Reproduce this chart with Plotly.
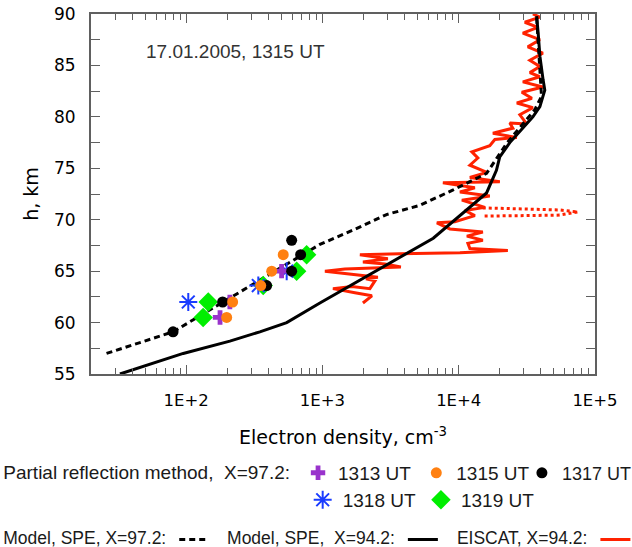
import plotly.graph_objects as go

# ---------------- data ----------------
# Model, SPE, X=97.2 (dashed)
model972_ne = [26, 80, 957, 1680, 2950, 5190, 9100, 16000, 22400, 29700, 36200, 40500, 39400, 38300, 37300]
model972_h = [57.0, 59.1, 67.6, 69.0, 70.5, 71.4, 72.9, 74.5, 77.4, 79.4, 80.7, 82.0, 84.9, 88.1, 89.7]

# Model, SPE, X=94.2 (solid)
model942_ne = [32.6, 95, 209, 347, 546, 957, 6500, 16000, 18900, 20000, 23700, 35000, 39400, 42800, 41600, 39400, 38300, 37300]
model942_h = [55.0, 57.0, 58.2, 59.1, 60.0, 61.9, 68.2, 72.6, 74.8, 76.1, 77.5, 80.0, 81.0, 82.6, 83.6, 85.9, 88.1, 89.8]

# EISCAT, X=94.2 (red)
eiscat_ne = [1980, 2305, 1730, 1193, 1644, 2228, 2425, 2083, 2551, 1042, 1460, 3760, 2871, 1980, 3020,
             1882, 3700, 10200, 22930, 12070, 11670, 15030, 11470, 15030, 8610, 6910, 9370, 13130, 11090,
             15550, 10540, 16900, 10200, 13130, 7650, 20030, 12070, 16070, 12070, 13810, 12480, 16900,
             18400, 26700, 17800, 24950, 23700, 31600, 28090, 34990, 26700, 34400, 29040, 41400, 29550,
             39360, 33270, 39360, 33270, 41400, 32140, 39360, 29550, 38060, 30550, 39360, 34990]
eiscat_h = [61.9, 62.6, 62.9, 63.3, 63.5, 63.3, 64.05, 64.25, 64.4, 65.0, 65.2, 65.4, 65.7, 65.9, 66.2,
            66.6, 66.7, 66.8, 67.0, 67.2, 67.7, 68.0, 68.4, 68.8, 69.1, 69.7, 69.8, 70.4, 70.9,
            71.2, 71.9, 72.3, 72.7, 73.1, 73.6, 73.7, 74.1, 74.6, 75.3, 76.0, 76.6, 77.2,
            77.8, 78.0, 78.4, 78.9, 79.4, 79.3, 80.2, 80.9, 81.35, 81.8, 82.4, 82.9, 83.4,
            83.9, 84.3, 84.9, 85.5, 86.2, 86.8, 87.5, 88.15, 88.7, 89.2, 89.7, 90.0]

# EISCAT dotted excursion
eiscat_dot_ne = [15000, 30000, 55000, 75000, 55000, 30000, 15000]
eiscat_dot_h = [71.15, 71.05, 70.95, 70.75, 70.45, 70.4, 70.35]

# Partial reflection method, X=97.2
pr1313_ne = [209, 177, 501]
pr1313_h = [62.0, 60.5, 65.0]
pr1315_ne = [219, 198, 352, 424, 515]
pr1315_h = [62.0, 60.5, 63.6, 65.0, 66.6]
pr1317_ne = [80, 185, 389, 594, 691, 594]
pr1317_h = [59.1, 62.0, 63.6, 68.0, 66.6, 65.0]
pr1318_ne = [103.5, 338, 546]
pr1318_h = [62.0, 63.6, 65.0]
pr1319_ne = [145, 133, 367, 646, 765]
pr1319_h = [62.0, 60.5, 63.6, 65.0, 66.6]

xtick_vals = [100, 1000, 10000, 100000]
xtick_text = ["1E+2", "1E+3", "1E+4", "1E+5"]
xminor_vals = [m * 10 ** d for d in (1, 2, 3, 4) for m in range(2, 10)]

RED = "#ff2200"
TXT = "#1a1a1a"
LEG1 = dict(family="Liberation Sans", size=19, color=TXT)
LEG1b = dict(family="Liberation Sans", size=18, color=TXT)
LEG3 = dict(family="Liberation Sans", size=17.5, color=TXT)

fig = go.Figure()

fig.add_trace(go.Scatter(x=eiscat_dot_ne, y=eiscat_dot_h, mode="lines",
                         line=dict(color=RED, width=3, dash="3px,3px"), showlegend=False))
fig.add_trace(go.Scatter(x=eiscat_ne, y=eiscat_h, mode="lines", name="",
                         line=dict(color=RED, width=3), legend="legend4"))
fig.add_trace(go.Scatter(x=model942_ne, y=model942_h, mode="lines", name="",
                         line=dict(color="black", width=3), legend="legend3"))
fig.add_trace(go.Scatter(x=model972_ne, y=model972_h, mode="lines", name="",
                         line=dict(color="black", width=3, dash="6px,4px"), legend="legend2"))

fig.add_trace(go.Scatter(x=pr1319_ne, y=pr1319_h, mode="markers", name="1319 UT", legendrank=5,
                         legend="legend5",
                         marker=dict(symbol="diamond", size=15, color="#00ee00")))
fig.add_trace(go.Scatter(x=pr1318_ne, y=pr1318_h, mode="markers", name="1318 UT", legendrank=4,
                         legend="legend5",
                         marker=dict(symbol="asterisk-open", size=15, color="#1a3cff",
                                     line=dict(color="#1a3cff", width=2))))
fig.add_trace(go.Scatter(x=pr1313_ne, y=pr1313_h, mode="markers", name="1313 UT", legendrank=1,
                         marker=dict(symbol="cross", size=12, color="#9933cc")))
fig.add_trace(go.Scatter(x=pr1317_ne, y=pr1317_h, mode="markers", name="1317 UT", legendrank=3,
                         legend="legend6",
                         marker=dict(symbol="circle", size=11, color="black")))
fig.add_trace(go.Scatter(x=pr1315_ne, y=pr1315_h, mode="markers", name="1315 UT", legendrank=2,
                         marker=dict(symbol="circle", size=11, color="#ff8011")))

AX = "#606060"
fig.update_xaxes(type="log", range=[1.301, 5.0], showgrid=False, zeroline=False,
                 showline=True, linecolor=AX, linewidth=2, mirror="allticks",
                 ticks="inside", ticklen=9, tickcolor=AX, tickwidth=1,
                 tickmode="array", tickvals=xtick_vals, ticktext=xtick_text,
                 ticklabelstandoff=10,
                 tickfont=dict(family="DejaVu Sans", size=16.5, color="black"),
                 minor=dict(ticks="inside", ticklen=6, tickcolor=AX, tickwidth=1,
                            tickmode="array", tickvals=xminor_vals, showgrid=False),
                 title=dict(text="Electron density, cm<sup>-3</sup>", standoff=22,
                            font=dict(family="DejaVu Sans", size=19, color="black")))
fig.update_yaxes(range=[55, 90], showgrid=False, zeroline=False,
                 showline=True, linecolor=AX, linewidth=2, mirror="allticks",
                 ticks="inside", ticklen=9, tickcolor=AX, tickwidth=1,
                 tick0=55, dtick=5, ticklabelstandoff=10,
                 tickfont=dict(family="DejaVu Sans", size=17, color="black"),
                 minor=dict(ticks="inside", ticklen=9, tickcolor=AX, tickwidth=1, dtick=2.5, tick0=55,
                            showgrid=False),
                 title=dict(text="h, km", standoff=10,
                            font=dict(family="DejaVu Sans", size=19, color="black")))

fig.add_annotation(text="17.01.2005, 1315 UT", xref="paper", yref="paper", x=0.286, y=0.897,
                   xanchor="center", yanchor="middle",
                   showarrow=False, font=dict(family="Liberation Sans", size=19, color="#333333"))

fig.update_layout(
    width=632, height=547,
    margin=dict(l=91, r=37, t=14, b=173, autoexpand=False),
    paper_bgcolor="white", plot_bgcolor="white",
    showlegend=True,
    legend=dict(orientation="h", x=-0.178, y=-0.222, xanchor="left", yanchor="top",
                title=dict(text="Partial reflection method,  X=97.2:", side="left", font=LEG1),
                font=LEG1, traceorder="normal", bgcolor="rgba(0,0,0,0)"),
    legend6=dict(orientation="h", x=0.855, y=-0.224, xanchor="left", yanchor="top",
                 font=LEG1b, bgcolor="rgba(0,0,0,0)"),
    legend5=dict(orientation="h", x=0.42, y=-0.297, xanchor="left", yanchor="top",
                 font=LEG1, traceorder="normal", bgcolor="rgba(0,0,0,0)"),
    legend2=dict(orientation="h", x=-0.178, y=-0.41, xanchor="left", yanchor="top",
                 title=dict(text="Model, SPE, X=97.2:", side="left", font=LEG3),
                 font=LEG3, bgcolor="rgba(0,0,0,0)"),
    legend3=dict(orientation="h", x=0.266, y=-0.41, xanchor="left", yanchor="top",
                 title=dict(text="Model, SPE,  X=94.2:", side="left", font=LEG3),
                 font=LEG3, bgcolor="rgba(0,0,0,0)"),
    legend4=dict(orientation="h", x=0.722, y=-0.41, xanchor="left", yanchor="top",
                 title=dict(text="EISCAT, X=94.2:", side="left", font=LEG3),
                 font=LEG3, bgcolor="rgba(0,0,0,0)"),
)

fig.write_html("out.html")
